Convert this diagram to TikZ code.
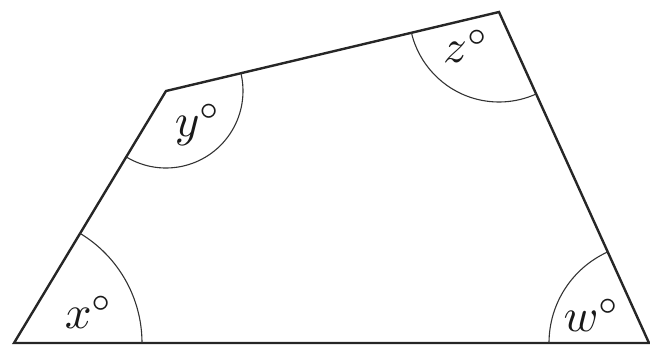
\documentclass[tikz,border=0pt]{standalone}
\begin{document}
\begin{tikzpicture}[x=1pt,y=1pt,
  side/.style={line width=2.4pt,draw=black!85,line join=miter},
  anglearc/.style={line width=1.1pt,draw=black!80},
  lbl/.style={inner sep=0pt,scale=4.7,text=black!90}]
\useasboundingbox (0,0) rectangle (650,-347);
\coordinate (A) at (14,-343);
\coordinate (B) at (166,-91);
\coordinate (C) at (499,-12);
\coordinate (D) at (649,-343);
\draw[side] (A) -- (B) -- (C) -- (D) -- cycle;
\draw[anglearc] ([shift={(0:128)}]A) arc[start angle=0,end angle=59,radius=128];
\draw[anglearc] ([shift={(239:77)}]B) arc[start angle=239,end angle=373.35,radius=77];
\draw[anglearc] ([shift={(193.35:90)}]C) arc[start angle=193.35,end angle=294.2,radius=90];
\draw[anglearc] ([shift={(114.2:100)}]D) arc[start angle=114.2,end angle=180,radius=100];
\node[lbl] (lx) at (89,-312) {$x^\circ$};
\node[lbl] (ly) at (198,-125) {$y^\circ$};
\node[lbl] (lz) at (466,-46) {$z^\circ$};
\node[lbl] (lw) at (592,-315) {$w^\circ$};
\end{tikzpicture}
\end{document}
